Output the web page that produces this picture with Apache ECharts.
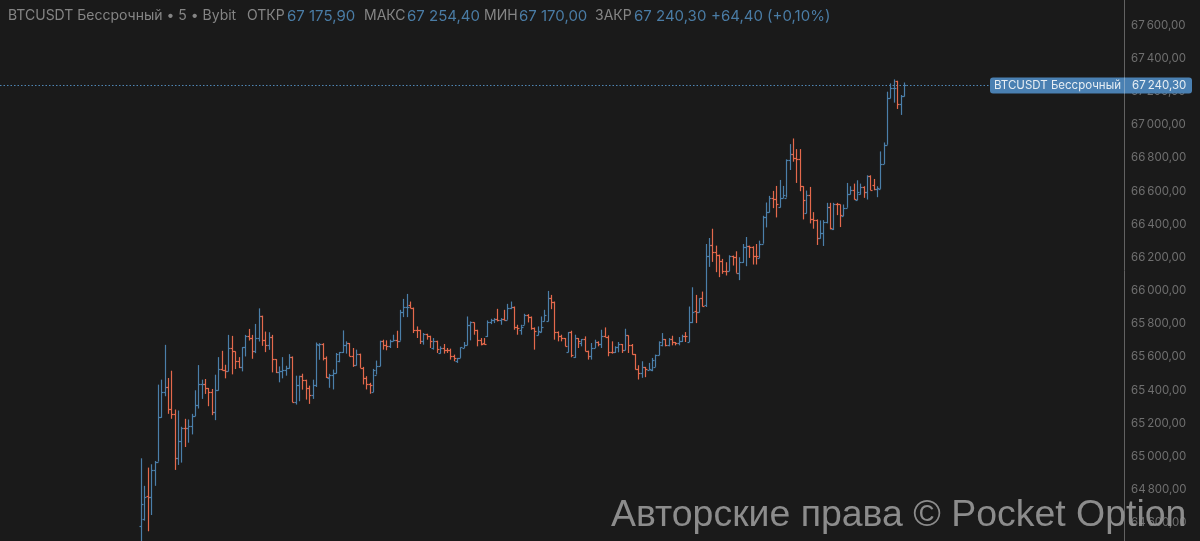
<!DOCTYPE html>
<html>
<head>
<meta charset="utf-8">
<style>
html, body { margin: 0; padding: 0; background: #1a1a1a; }
#main { width: 1200px; height: 541px; }
</style>
<script src="https://cdn.jsdelivr.net/npm/echarts@6/dist/echarts.min.js"></script>
</head>
<body>
<div id="main"></div>
<script>
// OHLC, one bar per 5 minutes
var opens = [64583,64623,64763,64753,64919,64969,65237,65389,65419,65289,65257,64993,65093,65173,65169,65183,65243,65309,65437,65439,65413,65387,65269,65399,65527,65523,65517,65653,65633,65573,65537,65657,65727,65717,65633,65717,65849,65703,65673,65719,65587,65507,65517,65523,65533,65599,65327,65433,65483,65463,65413,65369,65433,65673,65677,65593,
65474,65490,65504,65574,65628,65674,65684,65608,65554,65618,65534,65474,65434,65388,65494,65544,65698,65670,65666,65694,65700,65698,65870,65900,65914,65896,65764,65760,65698,65740,65724,65654,65698,65624,65654,65644,65640,65608,65574,65594,65654,65670,65794,65808,65760,65704,65684,65724,65808,65824,65828,65820,65830,65824,65894,65904,65778,65764,65794,65854,65838,65774,65730,65748,65814,65814,65954,65930,65750,65728,65714,65628,65750,65598,65714,65684,65708,65638,65604,65654,65690,65680,65728,65720,65630,65628,65658,65678,65640,65730,65674,65618,65528,65504,65538,65520,65520,65540,65610,65674,65708,65670,65708,65690,65684,65694,65728,65690,65808,65874,65870,65954,
65913,66207,66277,66233,66213,66181,66121,66117,66211,66203,66107,66171,66263,66267,66263,66211,66197,66283,66443,66473,66557,66553,66501,66557,66561,66787,66823,
66799,66795,66629,66465,66575,66429,66425,66319,66349,66413,66505,66369,66525,66519,66449,66499,66585,66609,66545,66585,66623,66595,66689,66639,66613,66613,66763,66879,67159,67219,67263,67125,67175.9];
var highs = [64989,64823,64933,64953,64973,65433,65463,65673,65473,65517,65283,65277,65179,65227,65223,65257,65399,65551,65463,65467,65413,65407,65493,65599,65637,65553,65733,65727,65633,65599,65659,65733,65769,65733,65799,65893,65849,65753,65749,65733,65587,65543,65599,65547,65617,65603,65487,65487,65499,65463,65427,65463,65687,65683,65683,65603,
65498,65524,65624,65630,65760,65694,65684,65654,65644,65620,65540,65484,65444,65528,65578,65698,65704,65700,65704,65734,65758,65884,65950,65980,65934,65898,65784,65764,65744,65740,65728,65714,65698,65664,65678,65654,65650,65614,65594,65658,65690,65844,65814,65808,65764,65714,65714,65820,65830,65834,65890,65834,65884,65920,65934,65904,65794,65794,65860,65858,65844,65778,65784,65844,65884,65998,65974,65934,65754,65734,65714,65750,65758,65734,65714,65708,65724,65638,65684,65704,65694,65764,65778,65730,65694,65664,65690,65678,65770,65730,65678,65618,65550,65574,65540,65564,65594,65614,65694,65744,65708,65714,65728,65690,65720,65734,65750,65904,66020,65974,65954,65994,
66281,66317,66373,66271,66217,66191,66171,66213,66211,66237,66201,66281,66323,66271,66267,66281,66301,66451,66531,66571,66601,66631,66667,66631,66791,66883,66917,
66853,66853,66629,66603,66625,66473,66429,66423,66425,66529,66529,66529,66529,66519,66519,66649,66629,66645,66665,66645,66629,66695,66695,66673,66629,66839,66893,67199,67249,67273,67265,67179,67254.4];
var lows = [64463,64613,64549,64647,64823,64969,65233,65363,65257,65227,64919,64949,64963,65057,65083,65133,65243,65289,65347,65377,65303,65249,65219,65397,65519,65471,65513,65495,65527,65533,65513,65603,65699,65589,65623,65693,65667,65629,65643,65507,65503,65447,65471,65487,65529,65327,65313,65333,65403,65343,65317,65347,65419,65583,65579,65473,
65414,65404,65500,65568,65624,65620,65604,65540,65548,65534,65434,65404,65378,65388,65494,65544,65644,65640,65654,65694,65654,65698,65840,65840,65894,65744,65714,65678,65674,65704,65654,65644,65624,65620,65620,65624,65584,65574,65564,65594,65654,65670,65700,65734,65664,65670,65674,65720,65798,65804,65814,65794,65820,65824,65888,65764,65734,65734,65794,65808,65764,65644,65730,65748,65814,65814,65888,65704,65694,65694,65664,65628,65598,65594,65654,65664,65634,65584,65584,65654,65664,65654,65720,65604,65620,65624,65628,65624,65640,65624,65614,65524,65464,65474,65478,65520,65514,65540,65610,65664,65664,65664,65670,65670,65670,65690,65690,65690,65804,65804,65868,65904,
65901,66143,66173,66111,66081,66101,66091,66117,66151,66107,66063,66167,66147,66197,66157,66157,66197,66283,66381,66471,66497,66441,66501,66557,66561,66727,66777,
66649,66599,66429,66465,66405,66373,66275,66313,66269,66405,66369,66365,66455,66383,66449,66499,66579,66549,66545,66579,66559,66549,66605,66605,66563,66613,66763,66879,67159,67133,67095,67059,67170];
var closes = [64713,64753,64753,64919,64969,65237,65389,65419,65289,65257,64993,65093,65173,65169,65183,65243,65309,65437,65439,65413,65387,65269,65399,65527,65523,65517,65653,65633,65573,65537,65657,65727,65717,65633,65717,65849,65703,65673,65719,65587,65507,65517,65523,65533,65599,65327,65433,65483,65463,65413,65369,65433,65679,65677,65593,65479,
65490,65504,65620,65628,65674,65684,65608,65550,65618,65534,65474,65434,65428,65524,65544,65698,65670,65666,65698,65700,65698,65870,65900,65904,65896,65764,65760,65698,65740,65724,65698,65698,65648,65654,65644,65640,65608,65594,65594,65658,65674,65794,65808,65760,65704,65680,65680,65808,65824,65828,65820,65830,65824,65894,65904,65778,65774,65778,65854,65838,65774,65754,65754,65778,65854,65954,65930,65750,65728,65714,65668,65750,65614,65714,65694,65708,65638,65604,65654,65690,65680,65728,65720,65630,65628,65658,65678,65644,65730,65674,65618,65528,65504,65538,65528,65528,65584,65614,65690,65708,65670,65708,65690,65684,65694,65728,65724,65808,65870,65870,65954,65908,
66207,66277,66233,66213,66181,66121,66117,66211,66203,66107,66171,66263,66267,66263,66207,66207,66283,66443,66473,66557,66553,66523,66557,66577,66787,66823,66797,
66795,66629,66549,66575,66429,66425,66319,66349,66413,66505,66379,66525,66519,66455,66499,66585,66609,66555,66595,66623,66595,66689,66609,66613,66617,66763,66879,67159,67219,67219,67125,67175.9,67240.3];

var lastPrice = 67240.3;
var symbolName = "BTCUSDT Бессрочный";
var headerLabels = ["BTCUSDT Бессрочный • 5 • Bybit", "ОТКР", "МАКС", "МИН", "ЗАКР"];
var headerValues = ["67 175,90", "67 254,40", "67 170,00", "67 240,30", "+64,40 (+0,10%)"];
var watermark = "Авторские права © Pocket Option";

var UP_COLOR = "#4b7fa9";
var DOWN_COLOR = "#e4694c";
var FONT = "Inter, Roboto, sans-serif";

function formatPrice(v) {
    var s = v.toFixed(2).split(".");
    return s[0].replace(/\B(?=(\d{3})+$)/g, "\u202f") + "," + s[1];
}

var barData = [];
for (var i = 0; i < opens.length; i++) {
    barData.push([i, opens[i], highs[i], lows[i], closes[i]]);
}

function renderBar(params, api) {
    var idx = api.value(0);
    var o = api.value(1), c = api.value(4);
    var top = api.coord([idx, api.value(2)]);
    var bottom = api.coord([idx, api.value(3)]);
    var x = Math.round(top[0]) + 0.5;
    var yo = Math.round(api.coord([idx, o])[1]) + 0.5;
    var yc = Math.round(api.coord([idx, c])[1]) + 0.5;
    var style = { stroke: c >= o ? UP_COLOR : DOWN_COLOR, lineWidth: 1.2 };
    return {
        type: "group",
        children: [
            { type: "line", shape: { x1: x, y1: top[1], x2: x, y2: bottom[1] }, style: style },
            { type: "line", shape: { x1: x - 2, y1: yo, x2: x, y2: yo }, style: style },
            { type: "line", shape: { x1: x, y1: yc, x2: x + 2, y2: yc }, style: style }
        ]
    };
}

// пунктир текущей цены и плашка на шкале
function renderPriceTag(params, api) {
    var y = Math.round(api.coord([0, api.value(0)])[1]) + 0.5;
    return {
        type: "group",
        children: [
            { type: "line", shape: { x1: 0, y1: y, x2: 990, y2: y },
              style: { stroke: "#4f86b5", lineWidth: 1, lineDash: [1.5, 2] } },
            { type: "rect", shape: { x: 990, y: y - 8, width: 202, height: 16, r: 3 },
              style: { fill: "#4a80b2" } },
            { type: "line", shape: { x1: 1124.5, y1: y - 8, x2: 1124.5, y2: y + 8 },
              style: { stroke: "#7fa3c4", lineWidth: 1 } },
            { type: "text", x: 994, y: y, style: { text: symbolName, fill: "#e6edf3",
              font: "11.5px " + FONT, textVerticalAlign: "middle" } },
            { type: "text", x: 1132, y: y, style: { text: formatPrice(api.value(0)), fill: "#e6edf3",
              font: "11.5px " + FONT, textVerticalAlign: "middle" } }
        ]
    };
}

// шапка: подписи серые, значения синие и чуть крупнее
var labelX = [8, 247, 364, 484, 595];
var valueX = [287, 407, 519, 634, 711];
var graphics = [];
headerLabels.forEach(function (t, k) {
    graphics.push({ type: "text", x: labelX[k], y: 16,
        style: { text: t, fill: "#858585", font: "14px " + FONT, textVerticalAlign: "middle" } });
});
headerValues.forEach(function (t, k) {
    graphics.push({ type: "text", x: valueX[k], y: 16,
        style: { text: t, fill: "#4a7ca5", font: "15px " + FONT, textVerticalAlign: "middle" } });
});
graphics.push({
    type: "text", x: 611, y: 516, scaleX: 1.04, z: 50,
    style: { text: watermark, fill: "rgba(150,150,150,0.92)",
             font: "36px 'Liberation Sans', Arial, sans-serif", textVerticalAlign: "middle" }
});

var option = {
    backgroundColor: "#1a1a1a",
    animation: false,
    grid: { left: 0, right: 76, top: -8, bottom: -15, outerBoundsMode: "none" },
    xAxis: { type: "value", min: -42, max: 292.5, show: false },
    yAxis: {
        type: "value",
        position: "right",
        min: 64400,
        max: 67800,
        interval: 200,
        splitLine: { show: false },
        axisTick: { show: false },
        axisLine: { show: true, onZero: false, lineStyle: { color: "#626262", width: 1 } },
        axisLabel: {
            margin: 7,
            color: "#6f6f6f",
            fontSize: 11.5,
            fontFamily: FONT,
            formatter: formatPrice
        }
    },
    graphic: graphics,
    series: [
        {
            type: "custom",
            z: 5,
            clip: false,
            renderItem: renderPriceTag,
            data: [[lastPrice]],
            encode: { y: 0 },
            silent: true
        },
        {
            type: "custom",
            z: 6,
            clip: true,
            renderItem: renderBar,
            data: barData,
            encode: { x: 0, y: [1, 2, 3, 4] },
            silent: true
        }
    ]
};

var main = echarts.init(document.getElementById("main"));
main.setOption(option);
</script>
</body>
</html>
